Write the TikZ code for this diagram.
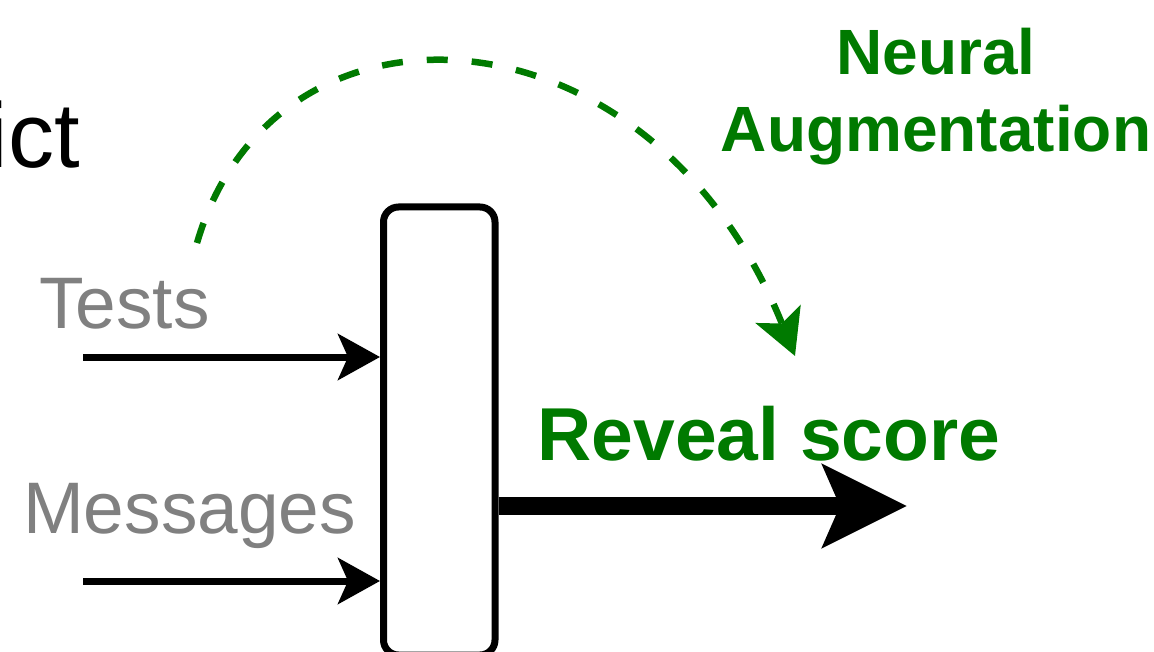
\documentclass[tikz,border=0pt]{standalone}
\usepackage{fontspec}
\setmainfont{Liberation Sans}
\usepackage{xcolor}
\usetikzlibrary{arrows.meta, positioning}

\definecolor{augGreen}{RGB}{0,122,0}
\definecolor{inGray}{RGB}{128,128,128}

\begin{document}
\begin{tikzpicture}[x=1pt, y=-1pt,
        lbl/.style={inner sep=0pt, anchor=base},
        inlbl/.style={lbl, text=inGray, font=\fontsize{73}{88}\selectfont},
        greenlbl/.style={lbl, text=augGreen, font=\bfseries\fontsize{75}{90}\selectfont},
        inarrow/.style={line width=7pt, -{Stealth[length=42pt, width=46pt, inset=10pt]}},
        outarrow/.style={line width=18pt, -{Stealth[length=84pt, width=82pt, inset=17pt]}},
        augarrow/.style={augGreen, line width=6.5pt, dash pattern=on 21pt off 24pt,
            -{Stealth[length=45pt, width=48pt, inset=10pt]}}]
                        \useasboundingbox (0,0) rectangle (1154,652);
                        \node[inner sep=0pt, anchor=base east, font=\fontsize{92}{110}\selectfont] (ict) at (80,168) {ict};
                        \node[draw, line width=7pt, rounded corners=15pt, inner sep=0pt,
                            minimum width=111.5pt, minimum height=448pt] (box) at (439.25,431) {};
                        \node[inlbl] (tests) at (124.5,328) {Tests};
                        \node[inlbl] (msgs) at (189.5,533) {Messages};
                        \node[greenlbl] (score) at (769,460) {Reveal score};
                        % base anchor sits on the last line here
                        \node[lbl, text=augGreen, font=\bfseries\fontsize{64}{77}\selectfont, align=center] (neural) at (936,152) {Neural\\Augmentation};
                        \coordinate (t0) at (83,357);
                        \coordinate (m0) at (83,581);
                        \coordinate (s1) at (907,506);
                        \coordinate (n0) at (197,243);
                        \coordinate (n1) at (795,356);
                        \draw[inarrow] (t0) -- (t0 -| box.west);
                        \draw[inarrow] (m0) -- (m0 -| box.west);
                        \draw[outarrow] (box.east |- s1) -- (s1);
                        \draw[augarrow] (n0) .. controls (274,-22) and (650,-4) .. (n1);
                    \end{tikzpicture}
\end{document}
